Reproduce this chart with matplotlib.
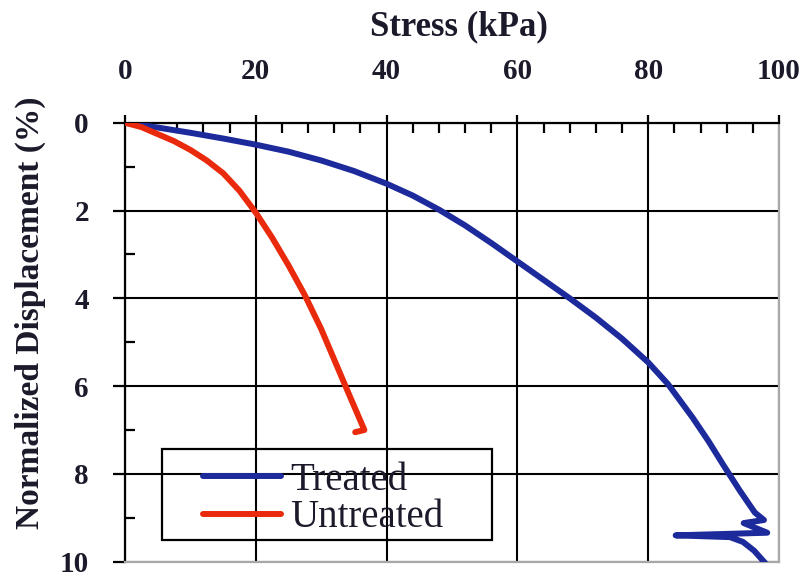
import matplotlib
matplotlib.use("Agg")
import matplotlib.pyplot as plt
from matplotlib.patches import Rectangle

# stress (kPa) vs normalized displacement (%)
treated_stress = [0, 5, 10, 15, 20, 25, 30, 35, 40, 44, 48, 52, 56, 60, 64, 68, 72, 76,
                  80, 83, 86.8, 89.2, 91.5, 94.0, 96.3, 97.7, 94.6, 98.2, 84.2, 92.5,
                  94.5, 96.2, 98.0]
treated_disp = [0, 0.11, 0.23, 0.36, 0.5, 0.66, 0.86, 1.1, 1.39, 1.66, 1.98, 2.34, 2.74,
                3.16, 3.58, 4.0, 4.44, 4.92, 5.46, 5.95, 6.72, 7.25, 7.8, 8.38, 8.88,
                9.05, 9.12, 9.34, 9.4, 9.44, 9.55, 9.75, 10.05]

untreated_stress = [0, 2.5, 5, 7.5, 10, 12.5, 15, 17.5, 20, 22.5, 25, 27.5, 30, 32, 34,
                    36.6, 35.2]
untreated_disp = [0, 0.1, 0.26, 0.42, 0.62, 0.86, 1.15, 1.55, 2.05, 2.62, 3.25, 3.93,
                  4.7, 5.4, 6.1, 7.0, 7.05]

x_ticks = [0, 20, 40, 60, 80, 100]
y_ticks = [0, 2, 4, 6, 8, 10]

SERIF = "Liberation Serif"
W, H = 811, 579

fig = plt.figure(figsize=(W / 100, H / 100), dpi=100)
fig.patch.set_facecolor("white")
ax = fig.add_axes([125 / W, 1 - 561.7 / H, 654 / W, 439 / H])
ax.set_facecolor("none")

l1, = ax.plot(treated_stress, treated_disp, color="#1c2a9c", lw=4.3,
              solid_capstyle="round", solid_joinstyle="round", label="Treated", zorder=3)
l2, = ax.plot(untreated_stress, untreated_disp, color="#ea2a0c", lw=4.3,
              solid_capstyle="round", solid_joinstyle="round", label="Untreated", zorder=3)

ax.set_xlim(0, 100)
ax.set_ylim(10, 0)
ax.xaxis.tick_top()
ax.set_xticks(x_ticks)
ax.set_yticks(y_ticks)
ax.set_xticks(range(0, 101, 4), minor=True)
ax.set_yticks(range(0, 11, 1), minor=True)
ax.grid(which="major", color="black", lw=1.5, zorder=1)

ax.tick_params(axis="x", which="major", direction="out", length=6, width=1.6, pad=21)
ax.tick_params(axis="y", which="major", direction="out", length=9, width=1.6, pad=17)
ax.tick_params(which="minor", direction="in", length=7, width=1.6)
ax.tick_params(axis="x", which="minor", top=True, bottom=False)
ax.tick_params(axis="y", which="minor", left=True, right=False)
for lab in ax.get_xticklabels() + ax.get_yticklabels():
    lab.set_fontfamily(SERIF)
    lab.set_fontweight("bold")
    lab.set_fontsize(21)
    lab.set_color("#1a1a2a")

for side in ("top", "left"):
    ax.spines[side].set_color("black")
    ax.spines[side].set_linewidth(1.6)
for side in ("right", "bottom"):
    ax.spines[side].set_color("#a8a8a8")
    ax.spines[side].set_linewidth(1.6)

fig.text(459 / W, 1 - 27 / H, "Stress (kPa)", ha="center", va="center",
         fontfamily=SERIF, fontweight="bold", fontsize=25, color="#1a1a2a")
fig.text(30 / W, 1 - 313 / H, "Normalized Displacement (%)", ha="center", va="center",
         rotation=90, fontfamily=SERIF, fontweight="bold", fontsize=24, color="#1a1a2a")

# legend without its own frame, box drawn separately to match the wide padding
leg = ax.legend(handles=[l1, l2], loc="center left", frameon=False,
                bbox_to_anchor=(203 / W, 1 - 499 / H), bbox_transform=fig.transFigure,
                borderpad=0, borderaxespad=0, handlelength=2.0, handletextpad=0.25,
                labelspacing=0.02, prop={"family": SERIF, "size": 28})
for t in leg.get_texts():
    t.set_color("#1a1a2a")
fig.patches.append(Rectangle((161.7 / W, 1 - 540 / H), 330 / W, 91 / H,
                             transform=fig.transFigure, fill=False,
                             edgecolor="black", lw=1.6, zorder=5))

fig.savefig("out.png", dpi=100)
